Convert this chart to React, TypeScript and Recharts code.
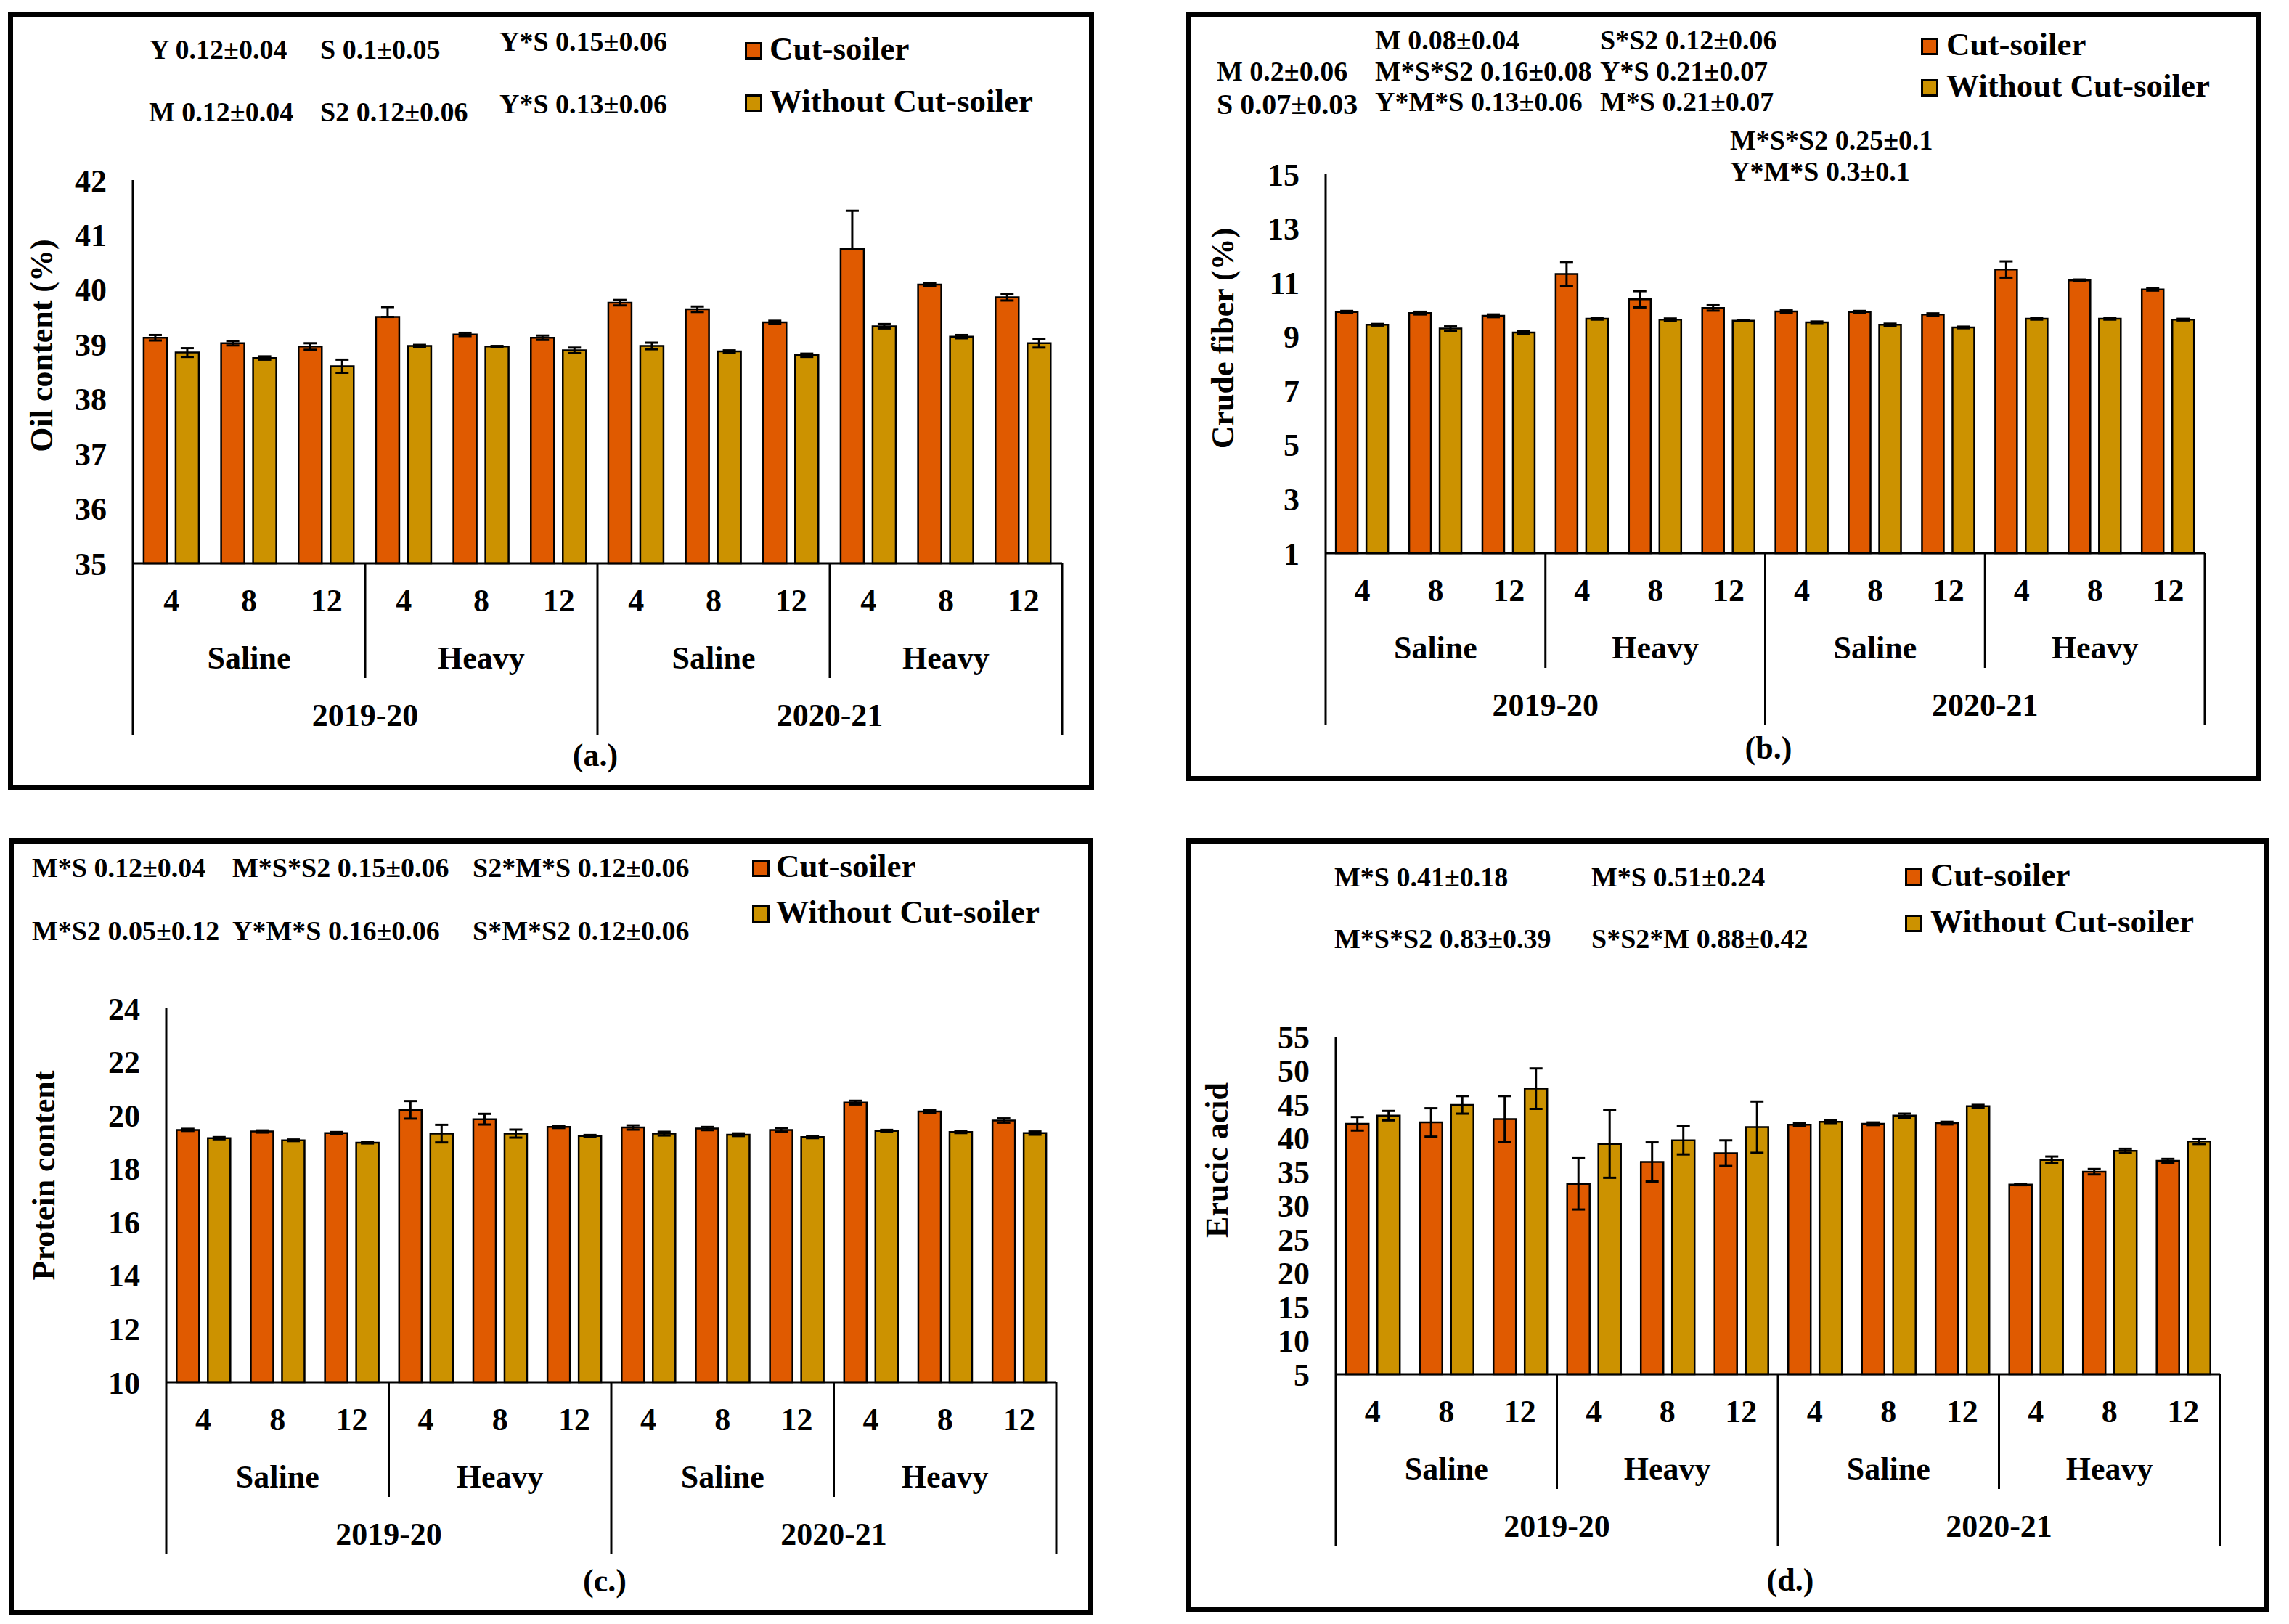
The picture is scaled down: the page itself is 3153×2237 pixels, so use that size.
import React from 'react';
import { BarChart, Bar, XAxis, YAxis, ErrorBar, Legend } from 'recharts';

const FONT = "'Liberation Serif', 'Times New Roman', serif";
const CUT_COLOR = '#E05A00';
const WITHOUT_COLOR = '#CC9200';

// ---------- categories ----------
const DOSES = ['4', '8', '12'];
const SOILS = ['Saline', 'Heavy'];
const YEARS = ['2019-20', '2020-21'];
const SERIES_NAMES = ['Cut-soiler', 'Without Cut-soiler'];

// ---------- (a) oil content ----------
const OIL_TICKS = [35, 36, 37, 38, 39, 40, 41, 42];
const OIL_CUT = [39.12, 39.02, 38.96, 39.5, 39.18, 39.12, 39.76, 39.64, 39.4, 40.74, 40.09, 39.86];
const OIL_CUT_ERR = [[0.05, 0.05], [0.04, 0.04], [0.06, 0.06], [0, 0.18], [0.03, 0.03], [0.04, 0.04], [0.05, 0.05], [0.05, 0.05], [0.03, 0.03], [0, 0.7], [0.03, 0.03], [0.06, 0.06]];
const OIL_WITHOUT = [38.85, 38.75, 38.6, 38.97, 38.96, 38.89, 38.97, 38.87, 38.8, 39.33, 39.14, 39.02];
const OIL_WITHOUT_ERR = [[0.08, 0.08], [0.03, 0.03], [0.12, 0.12], [0.02, 0.02], [0.01, 0.01], [0.05, 0.05], [0.06, 0.06], [0.02, 0.02], [0.03, 0.03], [0.04, 0.04], [0.03, 0.03], [0.08, 0.08]];
const OIL_NOTES = ['Y 0.12±0.04', 'S 0.1±0.05', 'Y*S 0.15±0.06', 'M 0.12±0.04', 'S2 0.12±0.06', 'Y*S 0.13±0.06'];

// ---------- (b) crude fiber ----------
const FIBER_TICKS = [1, 3, 5, 7, 9, 11, 13, 15];
const FIBER_CUT = [9.91, 9.87, 9.77, 11.31, 10.38, 10.06, 9.93, 9.91, 9.82, 11.48, 11.08, 10.74];
const FIBER_CUT_ERR = [0.04, 0.05, 0.05, 0.45, 0.3, 0.1, 0.04, 0.04, 0.04, 0.3, 0.03, 0.04];
const FIBER_WITHOUT = [9.44, 9.3, 9.15, 9.66, 9.63, 9.59, 9.53, 9.44, 9.34, 9.66, 9.66, 9.63];
const FIBER_WITHOUT_ERR = [0.03, 0.08, 0.06, 0.03, 0.04, 0.02, 0.03, 0.04, 0.03, 0.03, 0.03, 0.03];
const FIBER_NOTES = ['M 0.08±0.04', 'S*S2 0.12±0.06', 'M 0.2±0.06', 'M*S*S2 0.16±0.08', 'Y*S 0.21±0.07', 'S 0.07±0.03', 'Y*M*S 0.13±0.06', 'M*S 0.21±0.07', 'M*S*S2 0.25±0.1', 'Y*M*S 0.3±0.1'];

// ---------- (c) protein ----------
const PROTEIN_TICKS = [10, 12, 14, 16, 18, 20, 22, 24];
const PROTEIN_CUT = [19.45, 19.39, 19.33, 20.2, 19.85, 19.56, 19.54, 19.5, 19.45, 20.47, 20.14, 19.8];
const PROTEIN_CUT_ERR = [0.04, 0.04, 0.04, 0.33, 0.2, 0.04, 0.08, 0.06, 0.07, 0.07, 0.06, 0.08];
const PROTEIN_WITHOUT = [19.14, 19.06, 18.97, 19.31, 19.31, 19.22, 19.31, 19.27, 19.18, 19.41, 19.37, 19.33];
const PROTEIN_WITHOUT_ERR = [0.04, 0.03, 0.03, 0.33, 0.15, 0.04, 0.07, 0.05, 0.04, 0.04, 0.04, 0.06];
const PROTEIN_NOTES = ['M*S 0.12±0.04', 'M*S*S2 0.15±0.06', 'S2*M*S 0.12±0.06', 'M*S2 0.05±0.12', 'Y*M*S 0.16±0.06', 'S*M*S2 0.12±0.06'];

// ---------- (d) erucic acid ----------
const ERUCIC_TICKS = [5, 10, 15, 20, 25, 30, 35, 40, 45, 50, 55];
const ERUCIC_CUT = [42.1, 42.3, 42.8, 33.2, 36.45, 37.75, 41.95, 42.1, 42.2, 33.1, 35.0, 36.6];
const ERUCIC_CUT_ERR = [1.0, 2.1, 3.4, 3.8, 2.9, 1.9, 0.2, 0.2, 0.2, 0.1, 0.4, 0.3];
const ERUCIC_WITHOUT = [43.3, 44.9, 47.3, 39.1, 39.66, 41.6, 42.4, 43.3, 44.7, 36.75, 38.1, 39.5];
const ERUCIC_WITHOUT_ERR = [0.7, 1.3, 3.0, 5.0, 2.1, 3.8, 0.2, 0.3, 0.2, 0.5, 0.3, 0.4];
const ERUCIC_NOTES = ['M*S 0.41±0.18', 'M*S 0.51±0.24', 'M*S*S2 0.83±0.39', 'S*S2*M 0.88±0.42'];

const CATEGORIES = YEARS.flatMap((year) =>
  SOILS.flatMap((soil) => DOSES.map((dose) => ({ year, soil, dose, key: `${year} ${soil} ${dose}` })))
);

function buildData(cut, cutErr, wo, woErr) {
  return CATEGORIES.map((c, i) => ({ ...c, cut: cut[i], cutErr: cutErr[i], wo: wo[i], woErr: woErr[i] }));
}

// ---------- layout (page pixels) ----------
const YW = 120;
const XH = 250;
const ROW = { label: 51, soil: 130, year: 209, inner: 158, outer: 237 };
const ASC = 0.8375;

const PANELS = [
  {
    id: 'a',
    box: { x: 11, y: 16, w: 1496, h: 1072 },
    plot: { l: 183, t: 248, r: 1463, b: 776 },
    ticks: OIL_TICKS,
    data: buildData(OIL_CUT, OIL_CUT_ERR, OIL_WITHOUT, OIL_WITHOUT_ERR),
    yTitle: 'Oil content (%)',
    yTitlePos: { x: 57, y: 476 },
    caption: '(a.)',
    captionPos: { x: 820, y: 1043 },
    notes: OIL_NOTES,
    notePos: [[206, 81], [441, 81], [688, 70], [205, 167], [441, 167], [688, 156]],
    noteSize: [38, 38, 38, 38, 38, 38],
    legend: { sq: 1026, tx: 1060, base: [83, 155] },
  },
  {
    id: 'b',
    box: { x: 1634, y: 16, w: 1480, h: 1060 },
    plot: { l: 1826, t: 240, r: 3037, b: 762 },
    ticks: FIBER_TICKS,
    data: buildData(FIBER_CUT, FIBER_CUT_ERR, FIBER_WITHOUT, FIBER_WITHOUT_ERR),
    yTitle: 'Crude fiber (%)',
    yTitlePos: { x: 1684, y: 466 },
    caption: '(b.)',
    captionPos: { x: 2436, y: 1033 },
    notes: FIBER_NOTES,
    notePos: [[1894, 68], [2204, 68], [1676, 111], [1894, 111], [2204, 111], [1676, 157], [1894, 153], [2204, 153], [2383, 206], [2383, 249]],
    noteSize: [38, 38, 38, 38, 38, 40, 38, 38, 38, 38],
    legend: { sq: 2646, tx: 2681, base: [77, 134] },
  },
  {
    id: 'c',
    box: { x: 12, y: 1155, w: 1494, h: 1070 },
    plot: { l: 229, t: 1389, r: 1455, b: 1904 },
    ticks: PROTEIN_TICKS,
    data: buildData(PROTEIN_CUT, PROTEIN_CUT_ERR, PROTEIN_WITHOUT, PROTEIN_WITHOUT_ERR),
    yTitle: 'Protein content',
    yTitlePos: { x: 60, y: 1619 },
    caption: '(c.)',
    captionPos: { x: 833, y: 2180 },
    notes: PROTEIN_NOTES,
    notePos: [[44, 1208], [320, 1208], [651, 1208], [44, 1295], [320, 1295], [651, 1295]],
    noteSize: [38, 38, 38, 38, 38, 38],
    legend: { sq: 1036, tx: 1069, base: [1209, 1272] },
  },
  {
    id: 'd',
    box: { x: 1634, y: 1155, w: 1491, h: 1066 },
    plot: { l: 1840, t: 1428, r: 3058, b: 1893 },
    ticks: ERUCIC_TICKS,
    data: buildData(ERUCIC_CUT, ERUCIC_CUT_ERR, ERUCIC_WITHOUT, ERUCIC_WITHOUT_ERR),
    yTitle: 'Erucic acid',
    yTitlePos: { x: 1676, y: 1598 },
    caption: '(d.)',
    captionPos: { x: 2466, y: 2179 },
    notes: ERUCIC_NOTES,
    notePos: [[1838, 1221], [2192, 1221], [1838, 1306], [2192, 1306]],
    noteSize: [38, 38, 38, 38],
    legend: { sq: 2624, tx: 2659, base: [1221, 1285] },
  },
];

const textBase = { fontFamily: FONT, fontWeight: 700, fill: '#000' };

function makeTick(data, band) {
  return (props) => {
    const { x, y, payload } = props;
    const i = props.index != null ? props.index : payload.index;
    const c = data[i];
    if (!c) return <g />;
    const half = band / 2;
    const left = x - half;
    const tp = { ...textBase, textAnchor: 'middle', dominantBaseline: 'central', fontSize: 44 };
    return (
      <g>
        <text x={x} y={y + ROW.label} {...tp}>{c.dose}</text>
        {i % 3 === 1 && <text x={x} y={y + ROW.soil} {...tp}>{c.soil}</text>}
        {i % 6 === 2 && <text x={x + half} y={y + ROW.year} {...tp}>{c.year}</text>}
        {i % 3 === 0 && (
          <line x1={left} x2={left} y1={y} y2={y + (i % 6 === 0 ? ROW.outer : ROW.inner)} stroke="#000" strokeWidth={3} />
        )}
        {i === data.length - 1 && (
          <line x1={x + half} x2={x + half} y1={y} y2={y + ROW.outer} stroke="#000" strokeWidth={3} />
        )}
      </g>
    );
  };
}

function HtmlText({ x, y, text, size, center }) {
  return (
    <div
      style={{
        position: 'absolute',
        left: x,
        top: y - ASC * size,
        fontSize: size,
        lineHeight: `${size}px`,
        fontFamily: FONT,
        fontWeight: 700,
        color: '#000',
        whiteSpace: 'nowrap',
        transform: center ? 'translateX(-50%)' : undefined,
      }}
    >
      {text}
    </div>
  );
}

function Panel({ cfg }) {
  const { box, plot, data, ticks } = cfg;
  const margin = {
    top: plot.t - box.y,
    left: plot.l - box.x - YW,
    right: box.x + box.w - plot.r,
    bottom: box.y + box.h - plot.b - XH,
  };
  const band = (plot.r - plot.l) / data.length;
  const tx = cfg.yTitlePos.x - box.x;
  const ty = cfg.yTitlePos.y - box.y;
  return (
    <>
      <div style={{ position: 'absolute', left: box.x, top: box.y }}>
        <BarChart width={box.w} height={box.h} data={data} margin={margin} barCategoryGap="14%" barGap={12}>
          <XAxis
            dataKey="key"
            interval={0}
            height={XH}
            tickLine={false}
            tickSize={0}
            tickMargin={0}
            axisLine={{ stroke: '#000', strokeWidth: 3 }}
            tick={makeTick(data, band)}
          />
          <YAxis
            type="number"
            width={YW}
            domain={[ticks[0], ticks[ticks.length - 1]]}
            ticks={ticks}
            interval={0}
            tickLine={false}
            tickSize={0}
            tickMargin={36}
            axisLine={{ stroke: '#000', strokeWidth: 3 }}
            tick={{ ...textBase, fontSize: 44 }}
            label={{
              content: () => (
                <text
                  x={tx}
                  y={ty}
                  transform={`rotate(-90 ${tx} ${ty})`}
                  textAnchor="middle"
                  dominantBaseline="central"
                  {...textBase}
                  fontSize={44}
                >
                  {cfg.yTitle}
                </text>
              ),
            }}
          />
          <Legend
            layout="vertical"
            align="center"
            verticalAlign="middle"
            wrapperStyle={{ left: 0, top: 0, width: box.w, height: box.h, pointerEvents: 'none' }}
            content={(props) => (
              <div style={{ position: 'relative', width: box.w, height: box.h }}>
                {(props.payload || []).map((entry, k) => {
                  const base = cfg.legend.base[k] - box.y;
                  return (
                    <React.Fragment key={k}>
                      <div
                        style={{
                          position: 'absolute',
                          left: cfg.legend.sq - box.x,
                          top: base - 25,
                          width: 24,
                          height: 24,
                          boxSizing: 'border-box',
                          background: entry.color,
                          border: '3px solid #000',
                        }}
                      />
                      <div
                        style={{
                          position: 'absolute',
                          left: cfg.legend.tx - box.x,
                          top: base - ASC * 45,
                          fontSize: 45,
                          lineHeight: '45px',
                          fontFamily: FONT,
                          fontWeight: 700,
                          color: '#000',
                          whiteSpace: 'nowrap',
                        }}
                      >
                        {entry.value}
                      </div>
                    </React.Fragment>
                  );
                })}
              </div>
            )}
          />
          <Bar dataKey="cut" name={SERIES_NAMES[0]} fill={CUT_COLOR} stroke="#000" strokeWidth={2.5} isAnimationActive={false}>
            <ErrorBar dataKey="cutErr" width={9} strokeWidth={3} stroke="#000" isAnimationActive={false} />
          </Bar>
          <Bar dataKey="wo" name={SERIES_NAMES[1]} fill={WITHOUT_COLOR} stroke="#000" strokeWidth={2.5} isAnimationActive={false}>
            <ErrorBar dataKey="woErr" width={9} strokeWidth={3} stroke="#000" isAnimationActive={false} />
          </Bar>
        </BarChart>
      </div>
      <div
        style={{
          position: 'absolute',
          left: box.x,
          top: box.y,
          width: box.w,
          height: box.h,
          boxSizing: 'border-box',
          border: '7px solid #000',
          pointerEvents: 'none',
        }}
      />
      {cfg.notes.map((t, k) => (
        <HtmlText key={k} x={cfg.notePos[k][0]} y={cfg.notePos[k][1]} text={t} size={cfg.noteSize[k]} />
      ))}
      <HtmlText x={cfg.captionPos.x} y={cfg.captionPos.y + 0.3 * 44} text={cfg.caption} size={44} center />
    </>
  );
}

export default function App() {
  return (
    <div style={{ position: 'absolute', left: 0, top: 0, width: 3153, height: 2237, background: '#fff', overflow: 'hidden' }}>
      {PANELS.map((p) => (
        <Panel key={p.id} cfg={p} />
      ))}
    </div>
  );
}
